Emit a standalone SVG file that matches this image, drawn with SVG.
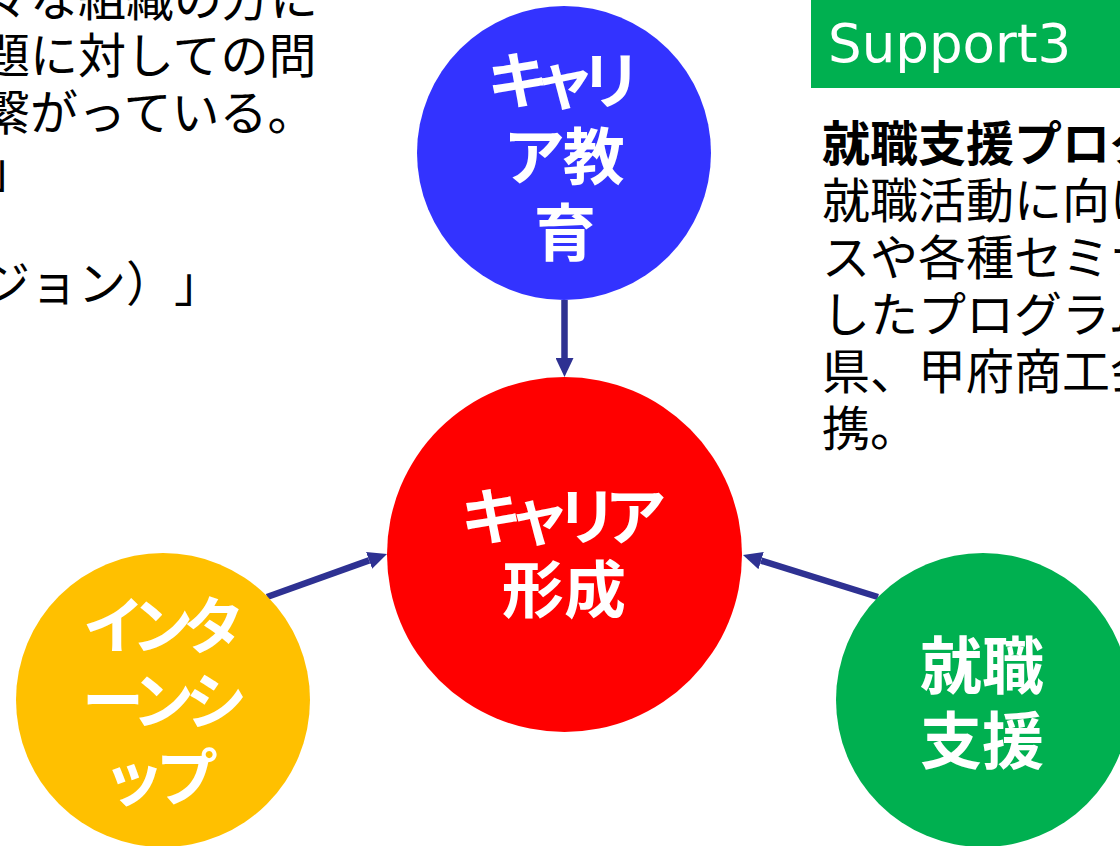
<svg xmlns="http://www.w3.org/2000/svg" width="1120" height="846" viewBox="0 0 1120 846">
<style>
.para{font-family:"Noto Sans CJK JP","Noto Sans CJK SC",sans-serif;font-size:48px;fill:#000}
.bold{font-weight:700}
.ct{font-family:"Noto Sans CJK JP","Noto Sans CJK SC",sans-serif;font-size:62px;font-weight:700;fill:#fff;text-anchor:middle;font-feature-settings:"palt"}
.conn{stroke:#2E3192;stroke-width:6.5;fill:none}
</style>
<defs>
<marker id="ah" markerUnits="userSpaceOnUse" markerWidth="20" markerHeight="18" refX="0" refY="9" orient="auto">
<path d="M0,0 L19,9 L0,18 Z" fill="#2E3192"/>
</marker>
</defs>
<rect width="1120" height="846" fill="#fff"/>
<g id="left-text" class="para">
<text x="-18" y="16">々な組織の方に</text>
<text x="-18" y="73">題に対しての問</text>
<text x="-18" y="130">繋がっている。</text>
<text x="-13" y="187">」</text>
<text x="-18" y="301">ジョン</text>
<text x="126" y="301">）</text>
<text x="174" y="301">」</text>
</g>
<g id="support3">
<rect x="811" y="0" width="309" height="88" fill="#00B050"/>
<text x="828" y="62" font-family="DejaVu Sans, Verdana, sans-serif" font-size="53" fill="#fff">Support3</text>
</g>
<g id="right-text" class="para">
<text x="822" y="161" class="bold">就職支援プログ</text>
<text x="822" y="218">就職活動に向け</text>
<text x="822" y="275">スや各種セミナ</text>
<text x="822" y="332">したプログラム</text>
<text x="822" y="389">県、甲府商工会</text>
<text x="822" y="446">携。</text>
</g>
<g id="connectors">
<line class="conn" x1="564.5" y1="300" x2="564.5" y2="358" marker-end="url(#ah)"/>
<line class="conn" x1="267" y1="597" x2="369.1" y2="560.4" marker-end="url(#ah)"/>
<line class="conn" x1="878" y1="597" x2="761.1" y2="560.6" marker-end="url(#ah)"/>
</g>
<g id="node-career-education">
<circle cx="564" cy="153" r="147" fill="#3333FF"/>
<text class="ct" x="559" y="104" letter-spacing="-7">キャリ</text>
<text class="ct" x="565" y="180">ア教</text>
<text class="ct" x="565" y="256">育</text>
</g>
<g id="node-career-formation">
<circle cx="564.5" cy="554.5" r="177.5" fill="#FF0000"/>
<text class="ct" x="560" y="540" letter-spacing="-6">キャリア</text>
<text class="ct" x="564" y="613">形成</text>
</g>
<g id="node-internship">
<circle cx="163" cy="700" r="147" fill="#FFC000"/>
<text class="ct" x="160" y="649" letter-spacing="-6">インタ</text>
<text class="ct" x="161" y="724" letter-spacing="-5">ーンシ</text>
<text class="ct" x="160" y="801" letter-spacing="-3">ップ</text>
</g>
<g id="node-job-support">
<circle cx="983" cy="700" r="147" fill="#00B050"/>
<text class="ct" x="982" y="689">就職</text>
<text class="ct" x="982" y="764">支援</text>
</g>
</svg>
